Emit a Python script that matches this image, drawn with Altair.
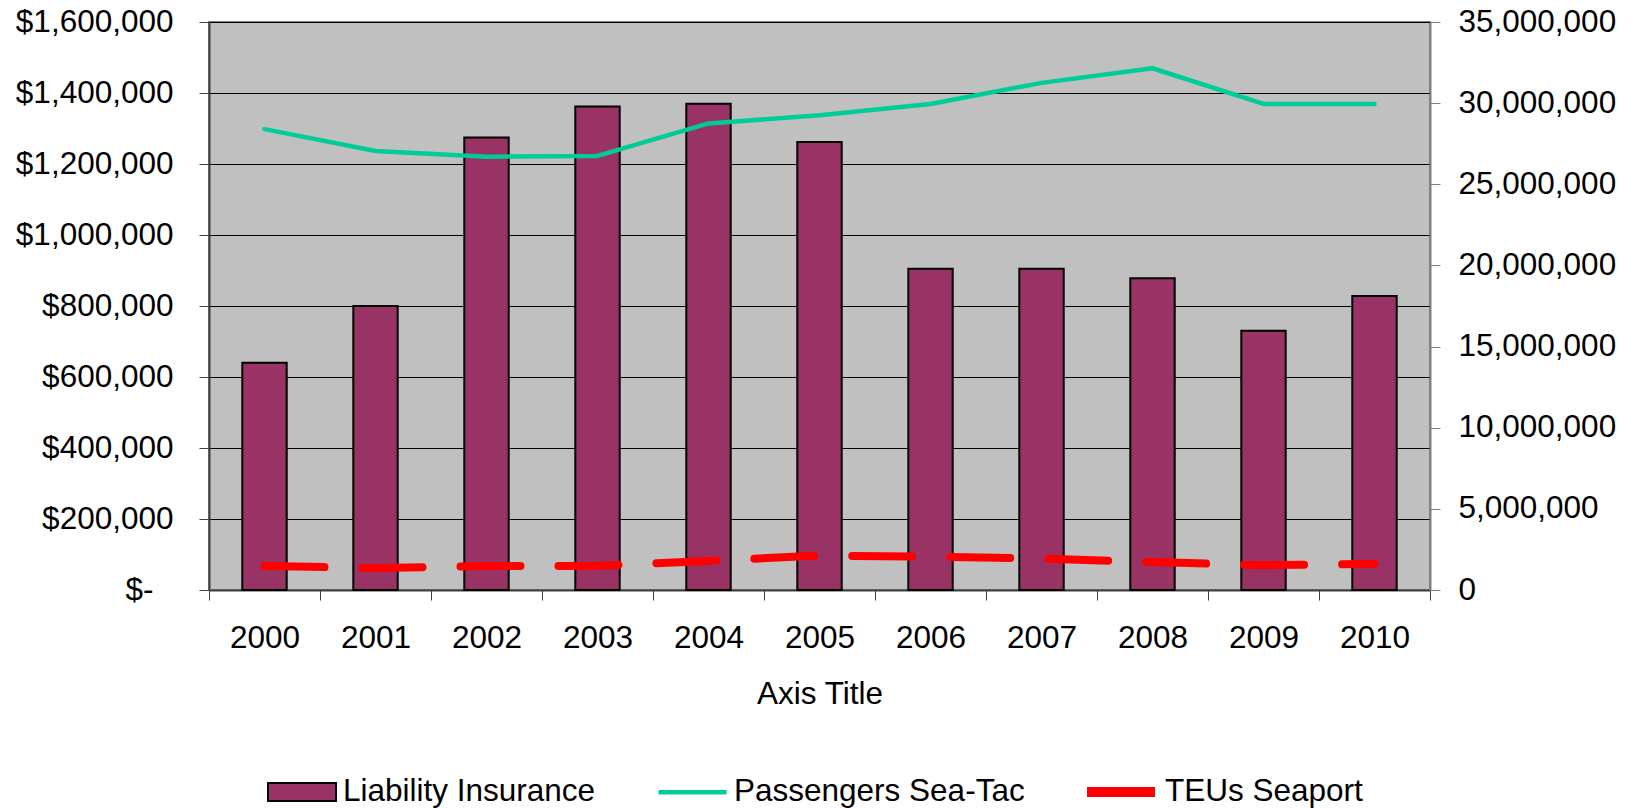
import altair as alt
import pandas as pd

# Yearly figures, 2000-2010
years = [str(y) for y in range(2000, 2011)]
liability = [640000, 800000, 1275000, 1362000, 1370000, 1262000,
             905000, 905000, 878000, 730000, 828000]
passengers = [28400000, 27050000, 26700000, 26750000, 28750000, 29250000,
              29950000, 31250000, 32150000, 29950000, 29950000]
teus = [1480000, 1350000, 1480000, 1490000, 1790000, 2120000,
        2060000, 1940000, 1720000, 1530000, 1600000]

series = ["Liability Insurance", "Passengers Sea-Tac", "TEUs Seaport"]
colors = ["#993366", "#00CC99", "#FF0000"]

FONT = "Liberation Sans"
FS = 31.5

bar_df = pd.DataFrame({"year": years, "value": liability, "series": series[0]})
pass_df = pd.DataFrame({"year": years, "value": passengers, "series": series[1]})
teu_df = pd.DataFrame({"year": years, "value": teus, "series": series[2]})

x_enc = alt.X(
    "year:O",
    title="Axis Title",
    scale=alt.Scale(paddingInner=0, paddingOuter=0),
    axis=alt.Axis(
        labelAngle=0, tickBand="extent", tickSize=10, tickColor="#404040",
        domainColor="#404040", domainWidth=2, labelBaseline="alphabetic",
        labelPadding=47, titleY=113, titleBaseline="alphabetic",
        titleFontSize=FS, titleFont=FONT, titleFontWeight="normal",
        titleColor="black", grid=False,
    ),
)

SYM = 68  # legend symbol length in px


def legend_for(x, y, shape, stroke_width, offset, stroke_color=None):
    kw = dict(
        orient="none", legendX=x, legendY=y, title=None,
        direction="horizontal", symbolType=shape, symbolSize=SYM * SYM,
        symbolStrokeWidth=stroke_width, labelFont=FONT, labelFontSize=FS,
        labelColor="black", labelOffset=offset, labelLimit=0, padding=0,
    )
    if stroke_color:
        kw["symbolStrokeColor"] = stroke_color
    return alt.Legend(**kw)


LEG_MID = 770  # vertical centre of the legend row, in plot coordinates

bars = alt.Chart(bar_df).mark_bar(
    width=alt.RelativeBandSize(0.4), stroke="black", strokeWidth=2
).encode(
    x=x_enc,
    y=alt.Y(
        "value:Q",
        title=None,
        scale=alt.Scale(domain=[0, 1600000], nice=False),
        axis=alt.Axis(
            values=list(range(0, 1600001, 200000)),
            labelExpr="datum.value == 0 ? '$-' : '$' + format(datum.value, ',')",
            labelPadding={"condition": {"test": "datum.value === 0", "value": 46}, "value": 26},
            grid=True, gridColor="black", gridWidth=1,
            domainColor="#404040", domainWidth=2,
            tickColor="#404040", tickSize=10,
        ),
    ),
    fill=alt.Fill(
        "series:N",
        scale=alt.Scale(domain=[series[0]], range=[colors[0]]),
        legend=legend_for(58, LEG_MID - (SYM + 2) / 2, "M-1,-0.265H1V0.265H-1Z", 2, 6, "black"),
    ),
)

right_scale = alt.Scale(domain=[0, 35000000], nice=False)
right_axis = alt.Axis(
    orient="right", values=list(range(0, 35000001, 5000000)),
    format=",.0f", grid=False, domainColor="#808080", domainWidth=2,
    tickColor="#808080", tickSize=10, labelPadding=18,
)

green = alt.Chart(pass_df).mark_line(
    strokeWidth=4.5, strokeJoin="round", strokeCap="round"
).encode(
    x=x_enc,
    y=alt.Y("value:Q", title=None, scale=right_scale, axis=right_axis),
    stroke=alt.Stroke(
        "series:N",
        scale=alt.Scale(domain=[series[1]], range=[colors[1]]),
        legend=legend_for(447, LEG_MID - (SYM + 4.5) / 2, "stroke", 4.5, 5),
    ),
)

red = alt.Chart(teu_df).mark_line(
    strokeWidth=8, strokeDash=[60, 38], strokeCap="round", strokeJoin="round"
).encode(
    x=x_enc,
    y=alt.Y("value:Q", title=None, scale=right_scale, axis=right_axis),
    color=alt.Color(
        "series:N",
        scale=alt.Scale(domain=[series[2]], range=[colors[2]]),
        legend=legend_for(873, LEG_MID - (SYM + 10) / 2, "stroke", 10, 5),
    ),
)

chart = (
    alt.layer(bars, alt.layer(green, red))
    .resolve_scale(y="independent")
    .properties(
        width=1221, height=568,
        padding={"left": 209, "top": 22, "right": 203, "bottom": 218},
        autosize=alt.AutoSizeParams(type="none"),
        background="white",
    )
    .configure_view(fill="#C0C0C0", stroke="#808080", strokeWidth=2)
    .configure_axis(labelFont=FONT, labelFontSize=FS, labelColor="black", labelLimit=0)
)

chart.save("out.html", embed_options={"renderer": "svg", "actions": False})
